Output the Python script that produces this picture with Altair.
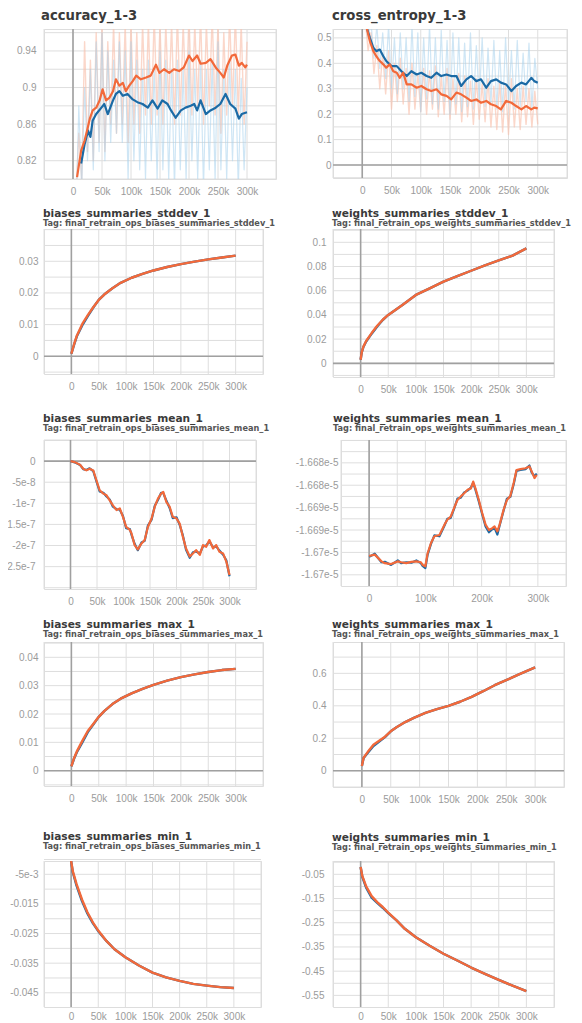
import altair as alt
import pandas as pd

# ---------------- data ----------------
# accuracy_1-3 (smoothed)
ACC_O_STEPS = [7, 14, 20, 25, 29, 34, 40, 46, 51, 57, 63, 69, 74, 80, 86, 91, 97, 103, 109, 117,
               126, 134, 143, 149, 157, 166, 174, 183, 191, 200, 206, 214, 220, 229, 237, 246, 254,
               260, 266, 274, 280, 286, 291, 297, 300]
ACC_O = [0.802, 0.831, 0.842, 0.855, 0.866, 0.875, 0.878, 0.886, 0.898, 0.886, 0.889, 0.896, 0.909,
         0.902, 0.905, 0.896, 0.902, 0.907, 0.913, 0.909, 0.911, 0.913, 0.925, 0.916, 0.920, 0.916,
         0.920, 0.918, 0.922, 0.935, 0.929, 0.935, 0.926, 0.927, 0.931, 0.922, 0.916, 0.911, 0.924,
         0.935, 0.936, 0.924, 0.927, 0.922, 0.925]
ACC_B_STEPS = [14, 20, 26, 30, 34, 40, 49, 54, 60, 69, 74, 80, 86, 94, 103, 111, 120, 129, 137, 146,
               154, 163, 169, 177, 186, 194, 203, 209, 214, 220, 229, 237, 246, 254, 263, 271, 280,
               286, 291, 300]
ACC_B = [0.817, 0.838, 0.853, 0.846, 0.864, 0.871, 0.878, 0.882, 0.871, 0.886, 0.893, 0.896, 0.891,
         0.893, 0.887, 0.884, 0.882, 0.878, 0.886, 0.877, 0.886, 0.882, 0.875, 0.867, 0.875, 0.878,
         0.880, 0.882, 0.875, 0.886, 0.871, 0.875, 0.878, 0.882, 0.893, 0.882, 0.877, 0.866, 0.871,
         0.873]
RAW_STEPS = [5, 10, 15, 20, 25, 30, 35, 40, 45, 50, 55, 60, 65, 70, 75, 80, 85, 90, 95, 100,
             105, 110, 115, 120, 125, 130, 135, 140, 145, 150, 155, 160, 165, 170, 175, 180, 185,
             190, 195, 200, 205, 210, 215, 220, 225, 230, 235, 240, 245, 250, 255, 260, 265, 270,
             275, 280, 285, 290, 295, 300]
ACC_O_RAW = [0.78, 0.85, 0.80, 0.95, 0.83, 0.93, 0.82, 0.96, 0.84, 0.97,
             0.83, 0.95, 0.86, 0.97, 0.85, 0.96, 0.86, 0.97, 0.84, 0.97,
             0.86, 0.96, 0.85, 0.97, 0.87, 0.97, 0.86, 0.98, 0.87, 0.97,
             0.86, 0.97, 0.88, 0.97, 0.86, 0.98, 0.87, 0.97, 0.88, 0.98,
             0.87, 0.97, 0.88, 0.98, 0.86, 0.97, 0.88, 0.98, 0.87, 0.97,
             0.85, 0.96, 0.87, 0.98, 0.88, 0.98, 0.87, 0.97, 0.86, 0.95]
ACC_B_RAW = [0.75, 0.88, 0.79, 0.90, 0.82, 0.92, 0.81, 0.95, 0.83, 0.96,
             0.82, 0.94, 0.84, 0.93, 0.85, 0.95, 0.84, 0.94, 0.80, 0.95,
             0.82, 0.93, 0.81, 0.92, 0.80, 0.93, 0.82, 0.92, 0.80, 0.94,
             0.81, 0.93, 0.80, 0.92, 0.79, 0.93, 0.81, 0.92, 0.80, 0.94,
             0.82, 0.92, 0.80, 0.93, 0.79, 0.92, 0.81, 0.93, 0.80, 0.95,
             0.81, 0.92, 0.80, 0.93, 0.82, 0.92, 0.79, 0.91, 0.81, 0.90]

# cross_entropy_1-3
CE_O_STEPS = [4, 7, 13, 19, 24, 30, 36, 41, 47, 53, 59, 64, 70, 76, 84, 93, 101, 110, 118, 127, 135,
              144, 152, 161, 169, 178, 186, 195, 203, 212, 220, 229, 237, 246, 255, 263, 272, 280,
              289, 294, 300]
CE_O = [0.60, 0.546, 0.487, 0.448, 0.428, 0.409, 0.396, 0.383, 0.396, 0.369, 0.363, 0.343, 0.363,
        0.317, 0.317, 0.304, 0.311, 0.298, 0.291, 0.298, 0.278, 0.272, 0.258, 0.285, 0.278, 0.265,
        0.252, 0.258, 0.245, 0.252, 0.239, 0.232, 0.219, 0.252, 0.245, 0.232, 0.219, 0.232, 0.219,
        0.226, 0.223]
CE_B_STEPS = [4, 7, 13, 19, 24, 30, 36, 41, 50, 59, 67, 76, 84, 93, 101, 110, 118, 127, 135, 144,
              152, 161, 169, 178, 186, 195, 203, 212, 220, 229, 237, 246, 255, 263, 272, 280, 289,
              294, 300]
CE_B = [0.60, 0.546, 0.5, 0.461, 0.448, 0.454, 0.428, 0.409, 0.389, 0.389, 0.369, 0.35, 0.369,
        0.356, 0.363, 0.35, 0.343, 0.363, 0.35, 0.356, 0.35, 0.35, 0.311, 0.337, 0.35, 0.33, 0.337,
        0.304, 0.33, 0.337, 0.324, 0.317, 0.291, 0.311, 0.324, 0.317, 0.343, 0.33, 0.324]
CE_O_RAW = [0.58, 0.45, 0.52, 0.36, 0.47, 0.30, 0.44, 0.28, 0.45, 0.22,
            0.40, 0.25, 0.42, 0.24, 0.38, 0.20, 0.40, 0.22, 0.36, 0.21,
            0.38, 0.20, 0.37, 0.22, 0.39, 0.19, 0.35, 0.20, 0.38, 0.18,
            0.34, 0.20, 0.36, 0.17, 0.35, 0.19, 0.33, 0.16, 0.34, 0.18,
            0.32, 0.17, 0.34, 0.15, 0.31, 0.14, 0.33, 0.13, 0.32, 0.12,
            0.34, 0.15, 0.30, 0.14, 0.31, 0.16, 0.30, 0.15, 0.29, 0.16]
CE_B_RAW = [0.56, 0.50, 0.56, 0.42, 0.55, 0.38, 0.52, 0.34, 0.55, 0.30,
            0.50, 0.28, 0.52, 0.30, 0.50, 0.25, 0.55, 0.27, 0.52, 0.21,
            0.50, 0.26, 0.55, 0.24, 0.50, 0.22, 0.53, 0.25, 0.49, 0.20,
            0.52, 0.24, 0.50, 0.21, 0.48, 0.23, 0.52, 0.22, 0.47, 0.25,
            0.50, 0.23, 0.46, 0.24, 0.49, 0.22, 0.45, 0.21, 0.50, 0.24,
            0.45, 0.22, 0.49, 0.23, 0.44, 0.25, 0.48, 0.22, 0.42, 0.30]

# biases_summaries_stddev_1
BS_STEPS = [0, 5, 10, 20, 30, 40, 50, 60, 75, 90, 110, 130, 150, 175, 200, 225, 250, 275, 300]
BS_O = [0.0008, 0.0038, 0.0065, 0.0102, 0.0130, 0.0155, 0.0178, 0.0195, 0.0215, 0.0232, 0.0248,
        0.0260, 0.0271, 0.0282, 0.0291, 0.0299, 0.0306, 0.0312, 0.0318]
BS_B = [0.0008, 0.0037, 0.0063, 0.0098, 0.0127, 0.0154, 0.0178, 0.0195, 0.0215, 0.0232, 0.0248,
        0.0260, 0.0271, 0.0282, 0.0291, 0.0299, 0.0306, 0.0312, 0.0318]

# weights_summaries_stddev_1
WS_STEPS = [0, 2, 5, 10, 20, 30, 40, 50, 75, 100, 125, 150, 175, 200, 225, 250, 275, 300]
WS_O = [0.003, 0.009, 0.0138, 0.0185, 0.025, 0.031, 0.036, 0.040, 0.048, 0.0565, 0.062, 0.0675,
        0.072, 0.0765, 0.081, 0.085, 0.089, 0.095]
WS_B = [0.003, 0.009, 0.0135, 0.018, 0.0245, 0.0305, 0.0358, 0.040, 0.048, 0.0565, 0.062, 0.0675,
        0.072, 0.0765, 0.081, 0.085, 0.089, 0.095]

# biases_summaries_mean_1 (units of 1e-8)
BM_STEPS = [0, 8, 18, 24, 30, 36, 43, 49, 55, 62, 68, 74, 80, 87, 93, 99, 105, 112, 115, 121,
            127, 134, 140, 146, 153, 159, 165, 171, 175, 181, 187, 193, 200, 206, 212, 218, 225,
            231, 237, 244, 250, 256, 262, 269, 275, 281, 288, 294, 300]
BM_O = [0, -0.24, -0.86, -1.8, -2.2, -1.8, -2.2, -4.6, -6.9, -7.7, -8.1, -9.3, -10.5, -11.6, -11.2,
        -13.2, -15.6, -16.3, -17.1, -19.9, -20.9, -19.5, -18.7, -15.6, -13.6, -10.8, -8.9, -7.7,
        -7.3, -9.7, -10.8, -13.2, -13.6, -14.8, -17.9, -20.7, -22.6, -21.9, -21.1, -22.2, -19.9,
        -20.3, -18.7, -20.7, -19.9, -21.5, -21.9, -23.8, -27.0]
BM_B = [0, -0.3, -0.9, -1.9, -2.1, -1.7, -2.4, -4.8, -7.2, -7.5, -8.4, -9.1, -10.8, -11.4, -11.5,
        -13.0, -15.9, -16.1, -17.4, -19.6, -21.1, -19.3, -18.9, -15.3, -13.9, -10.6, -9.2, -7.5,
        -7.6, -9.4, -11.1, -13.5, -13.3, -15.1, -17.6, -21.0, -22.9, -21.6, -21.4, -21.9, -20.2,
        -20.0, -19.0, -20.4, -20.2, -21.2, -22.2, -23.5, -27.3]

# weights_summaries_mean_1 (units of 1e-5)
WM_STEPS = [0, 10, 22, 28, 39, 51, 57, 66, 75, 84, 92, 95, 100, 104, 110, 116, 125, 134, 139, 145,
            151, 157, 163, 169, 175, 181, 185, 189, 195, 201, 207, 213, 219, 223, 228, 232, 239,
            245, 251, 257, 262, 269, 278, 285, 289, 294, 298]
WM_O = [-1.67008, -1.67005, -1.67020, -1.67024, -1.67026, -1.67020, -1.67022, -1.67024, -1.67021,
        -1.67020, -1.67022, -1.67028, -1.67031, -1.67002, -1.66979, -1.66964, -1.66961, -1.66938,
        -1.66927, -1.66920, -1.66901, -1.66883, -1.66875, -1.66868, -1.66860, -1.66857, -1.66842,
        -1.66857, -1.66883, -1.66912, -1.66938, -1.66950, -1.66946, -1.66942, -1.66953, -1.66938,
        -1.66905, -1.66883, -1.66874, -1.66845, -1.66816, -1.66814, -1.66812, -1.66808, -1.66819,
        -1.66834, -1.66827]
WM_B = [-1.67010, -1.67003, -1.67022, -1.67021, -1.67028, -1.67018, -1.67024, -1.67022, -1.67023,
        -1.67018, -1.67024, -1.67030, -1.67035, -1.67005, -1.66981, -1.66962, -1.66964, -1.66940,
        -1.66925, -1.66923, -1.66903, -1.66880, -1.66878, -1.66866, -1.66862, -1.66855, -1.66845,
        -1.66860, -1.66886, -1.66915, -1.66942, -1.66955, -1.66948, -1.66945, -1.66960, -1.66940,
        -1.66907, -1.66880, -1.66876, -1.66848, -1.66818, -1.66816, -1.66814, -1.66806, -1.66822,
        -1.66830, -1.66824]

# biases_summaries_max_1
BMX_STEPS = [0, 5, 10, 20, 30, 40, 50, 60, 75, 90, 110, 130, 150, 175, 200, 225, 250, 275, 300]
BMX_O = [0.0015, 0.0045, 0.0068, 0.0105, 0.0140, 0.0165, 0.0190, 0.0210, 0.0235, 0.0254, 0.0273,
         0.0289, 0.0303, 0.0318, 0.0330, 0.0340, 0.0348, 0.0355, 0.0359]
BMX_B = [0.0015, 0.0043, 0.0065, 0.0100, 0.0136, 0.0163, 0.0190, 0.0210, 0.0235, 0.0254, 0.0273,
         0.0289, 0.0303, 0.0318, 0.0330, 0.0340, 0.0348, 0.0355, 0.0359]

# weights_summaries_max_1
WMX_STEPS = [0, 3, 10, 20, 30, 40, 50, 60, 75, 90, 110, 130, 150, 170, 190, 210, 230, 250, 270, 300]
WMX_O = [0.03, 0.08, 0.115, 0.16, 0.185, 0.21, 0.243, 0.268, 0.30, 0.326, 0.356, 0.38, 0.40, 0.425,
         0.455, 0.49, 0.527, 0.558, 0.59, 0.637]
WMX_B = [0.03, 0.078, 0.11, 0.152, 0.18, 0.207, 0.243, 0.268, 0.30, 0.326, 0.356, 0.38, 0.40, 0.425,
         0.455, 0.49, 0.527, 0.558, 0.59, 0.637]

# biases_summaries_min_1
BMN_STEPS = [0, 3, 10, 20, 30, 40, 50, 65, 80, 100, 125, 150, 175, 200, 225, 250, 275, 300]
BMN_O = [-0.0005, -0.0039, -0.0083, -0.0135, -0.0178, -0.0212, -0.0240, -0.0275, -0.0303, -0.0330,
         -0.0358, -0.0382, -0.0398, -0.0410, -0.0420, -0.0426, -0.0431, -0.0434]
BMN_B = [-0.0005, -0.0042, -0.0088, -0.0140, -0.0182, -0.0215, -0.0242, -0.0275, -0.0303, -0.0330,
         -0.0358, -0.0382, -0.0398, -0.0410, -0.0420, -0.0426, -0.0431, -0.0434]

# weights_summaries_min_1
WMN_STEPS = [0, 3, 10, 20, 30, 40, 50, 65, 80, 100, 125, 150, 175, 200, 225, 250, 275, 300]
WMN_O = [-0.02, -0.057, -0.10, -0.14, -0.165, -0.185, -0.208, -0.24, -0.275, -0.31, -0.345, -0.378,
         -0.406, -0.435, -0.461, -0.486, -0.51, -0.532]
WMN_B = [-0.02, -0.06, -0.105, -0.146, -0.168, -0.188, -0.21, -0.24, -0.275, -0.31, -0.345, -0.378,
         -0.406, -0.435, -0.461, -0.486, -0.51, -0.532]

# ---------------- grid lines and tick labels ----------------
X_GRID = [-50000, 0, 50000, 100000, 150000, 200000, 250000, 300000, 350000]
X_TICKS = [0, 50000, 100000, 150000, 200000, 250000, 300000]
X_TEXT = ["0", "50k", "100k", "150k", "200k", "250k", "300k"]
X_TICKS_100 = [0, 100000, 200000, 300000]
X_TEXT_100 = ["0", "100k", "200k", "300k"]

ACC_GRID = [0.80, 0.82, 0.84, 0.86, 0.88, 0.90, 0.92, 0.94, 0.96]
ACC_TICKS = [0.82, 0.86, 0.90, 0.94]
ACC_TEXT = ["0.82", "0.86", "0.9", "0.94"]
CE_GRID = [-0.05, 0.0, 0.05, 0.1, 0.15, 0.2, 0.25, 0.3, 0.35, 0.4, 0.45, 0.5]
CE_TICKS = [0.0, 0.1, 0.2, 0.3, 0.4, 0.5]
CE_TEXT = ["0", "0.1", "0.2", "0.3", "0.4", "0.5"]
BS_GRID = [-0.005, 0.0, 0.005, 0.01, 0.015, 0.02, 0.025, 0.03, 0.035, 0.04]
BS_TICKS = [0.0, 0.01, 0.02, 0.03]
BS_TEXT = ["0", "0.01", "0.02", "0.03"]
WS_GRID = [-0.01, 0.0, 0.01, 0.02, 0.03, 0.04, 0.05, 0.06, 0.07, 0.08, 0.09, 0.1, 0.11]
WS_TICKS = [0.0, 0.02, 0.04, 0.06, 0.08, 0.1]
WS_TEXT = ["0", "0.02", "0.04", "0.06", "0.08", "0.1"]
BM_GRID = [-30.0, -25.0, -20.0, -15.0, -10.0, -5.0, 0.0, 5.0]          # x 1e-8
BM_TICKS = [-25.0, -20.0, -15.0, -10.0, -5.0, 0.0]
BM_TEXT = ["2.5e-7", "-2e-7", "1.5e-7", "-1e-7", "-5e-8", "0"]
WM_GRID = [-1.6705, -1.67025, -1.67, -1.66975, -1.6695, -1.66925, -1.669, -1.66875, -1.6685,
           -1.66825, -1.668, -1.66775, -1.6675]                           # x 1e-5
WM_TICKS = [-1.6705, -1.67, -1.6695, -1.669, -1.6685, -1.668]
WM_TEXT = ["-1.67e-5", "-1.67e-5", "-1.669e-5", "-1.669e-5", "-1.668e-5", "-1.668e-5"]
BMX_GRID = [-0.005, 0.0, 0.005, 0.01, 0.015, 0.02, 0.025, 0.03, 0.035, 0.04, 0.045]
BMX_TICKS = [0.0, 0.01, 0.02, 0.03, 0.04]
BMX_TEXT = ["0", "0.01", "0.02", "0.03", "0.04"]
WMX_GRID = [-0.1, 0.0, 0.1, 0.2, 0.3, 0.4, 0.5, 0.6, 0.7]
WMX_TICKS = [0.0, 0.2, 0.4, 0.6]
WMX_TEXT = ["0", "0.2", "0.4", "0.6"]
BMN_GRID = [-0.045, -0.04, -0.035, -0.03, -0.025, -0.02, -0.015, -0.01, -0.005, 0.0]
BMN_TICKS = [-0.045, -0.035, -0.025, -0.015, -0.005]
BMN_TEXT = ["-0.045", "-0.035", "-0.025", "-0.015", "-5e-3"]
WMN_GRID = [-0.55, -0.5, -0.45, -0.4, -0.35, -0.3, -0.25, -0.2, -0.15, -0.1, -0.05, 0.0]
WMN_TICKS = [-0.55, -0.45, -0.35, -0.25, -0.15, -0.05]
WMN_TEXT = ["-0.55", "-0.45", "-0.35", "-0.25", "-0.15", "-0.05"]

# ---------------- style ----------------
ORANGE = "#f2693a"
BLUE = "#1b6aa5"
ORANGE_RAW = "#f9c2ae"
BLUE_RAW = "#a8d1ed"
GRID = "#dedede"
ZERO = "#a0a0a0"
LABEL = "#9b9b9b"
LFONT = "Liberation Sans"
TFONT = "DejaVu Sans"


def label_expr(values, texts):
    expr = "''"
    for v, t in zip(values, texts):
        expr = f"datum.value == {v!r} ? '{t}' : " + expr
    return expr


def frame(steps, vals, factor=1.0):
    return pd.DataFrame({"step": [s * 1000 for s in steps], "v": [x * factor for x in vals]})


def panel(title, tag, W, H, ydom, ygrid, yticks, ytext, series, factor=1.0,
          xticks=X_TICKS, xtext=X_TEXT, zero_y=True, x_ext=20, y_ext=None, ypad=7, xpad=7,
          tsize=10.6, dx=-1, offset=4):
    yt = [t * factor for t in yticks]
    yaxis_kw = dict(values=yt, labelExpr=label_expr(yt, ytext), title=None, grid=False,
                    domain=False, ticks=False, labelColor=LABEL, labelFont=LFONT,
                    labelFontSize=10, labelPadding=ypad, labelFlush=False, labelOverlap=False)
    if y_ext is not None:
        yaxis_kw.update(minExtent=y_ext, maxExtent=y_ext)
    x = alt.X("step:Q", scale=alt.Scale(domain=[-50000, 350000], nice=False, zero=False),
              axis=alt.Axis(values=xticks, labelExpr=label_expr(xticks, xtext), title=None,
                            grid=False, domain=False, ticks=False, labelColor=LABEL,
                            labelFont=LFONT, labelFontSize=10, labelPadding=xpad,
                            labelFlush=False, labelOverlap=False, minExtent=x_ext,
                            maxExtent=x_ext))
    y = alt.Y("v:Q", scale=alt.Scale(domain=[d * factor for d in ydom], nice=False, zero=False),
              axis=alt.Axis(**yaxis_kw))
    layers = [
        alt.Chart(pd.DataFrame({"step": X_GRID})).mark_rule(color=GRID, strokeWidth=1)
        .encode(x=x),
        alt.Chart(pd.DataFrame({"v": [g * factor for g in ygrid]}))
        .mark_rule(color=GRID, strokeWidth=1).encode(y=y),
        alt.Chart(pd.DataFrame({"step": [0]})).mark_rule(color=ZERO, strokeWidth=1.6)
        .encode(x=x),
    ]
    if zero_y:
        layers.append(alt.Chart(pd.DataFrame({"v": [0.0]})).mark_rule(color=ZERO, strokeWidth=1.6)
                      .encode(y=y))
    for steps, vals, color, width, op in series:
        layers.append(alt.Chart(frame(steps, vals, factor)).mark_line(
            clip=True, color=color, strokeWidth=width, opacity=op, strokeJoin="round"
        ).encode(x=x, y=y))
    tkw = dict(text=title, anchor="start", frame="group", font=TFONT, fontSize=tsize,
               fontWeight="bold", color="#3a3a3a", offset=offset, dx=dx)
    if tag:
        tkw.update(subtitle=tag, subtitleFont=TFONT, subtitleFontSize=8.2,
                   subtitleFontWeight="bold", subtitleColor="#555555", subtitlePadding=0)
    return alt.layer(*layers).properties(width=W, height=H, title=alt.TitleParams(**tkw))


def pair(steps_o, o, steps_b, b, w=2.4):
    return [(steps_b, b, BLUE, w, 1.0), (steps_o, o, ORANGE, w, 1.0)]


TAG = "Tag: final_retrain_ops_"
YE = 32

acc = panel("accuracy_1-3", None, 232, 150, [0.80, 0.964], ACC_GRID, ACC_TICKS, ACC_TEXT,
            [(RAW_STEPS, ACC_O_RAW, ORANGE_RAW, 1.4, 0.65),
             (RAW_STEPS, ACC_B_RAW, BLUE_RAW, 1.2, 0.55),
             (ACC_B_STEPS, ACC_B, BLUE, 2.2, 1.0), (ACC_O_STEPS, ACC_O, ORANGE, 2.2, 1.0)],
            zero_y=False, x_ext=28, y_ext=YE, ypad=8, tsize=13.2, dx=-3, offset=5)
ce = panel("cross_entropy_1-3", None, 234, 149, [-0.051, 0.535], CE_GRID, CE_TICKS, CE_TEXT,
           [(RAW_STEPS, CE_O_RAW, ORANGE_RAW, 1.4, 0.65),
            (RAW_STEPS, CE_B_RAW, BLUE_RAW, 1.2, 0.55),
            (CE_B_STEPS, CE_B, BLUE, 2.2, 1.0), (CE_O_STEPS, CE_O, ORANGE, 2.2, 1.0)],
           x_ext=28, ypad=2, tsize=13.2, dx=-1, offset=5)

bs = panel("biases_summaries_stddev_1", TAG + "biases_summaries_stddev_1", 219, 145,
           [-0.0056, 0.0402], BS_GRID, BS_TICKS, BS_TEXT, pair(BS_STEPS, BS_O, BS_STEPS, BS_B),
           x_ext=35, y_ext=YE, ypad=6, offset=1)
ws = panel("weights_summaries_stddev_1", TAG + "weights_summaries_stddev_1", 221, 148,
           [-0.0113, 0.111], WS_GRID, WS_TICKS, WS_TEXT, pair(WS_STEPS, WS_O, WS_STEPS, WS_B),
           x_ext=35, ypad=7, offset=1)

bm = panel("biases_summaries_mean_1", TAG + "biases_summaries_mean_1", 212, 149,
           [-30.3, 5.0], BM_GRID, BM_TICKS, BM_TEXT, pair(BM_STEPS, BM_O, BM_STEPS, BM_B, 2.2),
           factor=1e-8, x_ext=29, y_ext=YE, ypad=9, offset=7)
wm = panel("weights_summaries_mean_1", TAG + "weights_summaries_mean_1", 225, 146,
           [-1.67075, -1.66749], WM_GRID, WM_TICKS, WM_TEXT,
           pair(WM_STEPS, WM_O, WM_STEPS, WM_B, 2.2), factor=1e-5, xticks=X_TICKS_100,
           xtext=X_TEXT_100, zero_y=False, x_ext=29, ypad=3, dx=-8, offset=7)

bmx = panel("biases_summaries_max_1", TAG + "biases_summaries_max_1", 219, 144,
            [-0.0054, 0.0454], BMX_GRID, BMX_TICKS, BMX_TEXT,
            pair(BMX_STEPS, BMX_O, BMX_STEPS, BMX_B), x_ext=43, y_ext=YE, ypad=6, offset=3)
wmx = panel("weights_summaries_max_1", TAG + "weights_summaries_max_1", 231, 145,
            [-0.1, 0.793], WMX_GRID, WMX_TICKS, WMX_TEXT,
            pair(WMX_STEPS, WMX_O, WMX_STEPS, WMX_B), x_ext=43, ypad=7, offset=3)

bmn = panel("biases_summaries_min_1", TAG + "biases_summaries_min_1", 217, 146,
            [-0.0498, -0.0005], BMN_GRID, BMN_TICKS, BMN_TEXT,
            pair(BMN_STEPS, BMN_O, BMN_STEPS, BMN_B), zero_y=False, x_ext=15, y_ext=YE, ypad=6,
            xpad=4, offset=9)
wmn = panel("weights_summaries_min_1", TAG + "weights_summaries_min_1", 221, 146,
            [-0.598, 0.005], WMN_GRID, WMN_TICKS, WMN_TEXT,
            pair(WMN_STEPS, WMN_O, WMN_STEPS, WMN_B), zero_y=False, x_ext=15, ypad=9,
            xpad=4, offset=9)

rows = [
    alt.hconcat(acc, ce, spacing=57, bounds="flush"),
    alt.hconcat(bs, ws, spacing=70, bounds="flush"),
    alt.hconcat(bm, wm, spacing=85, bounds="flush"),
    alt.hconcat(bmx, wmx, spacing=70, bounds="flush"),
    alt.hconcat(bmn, wmn, spacing=72, bounds="flush"),
]

chart = alt.vconcat(*rows, spacing=0, bounds="full").properties(
    padding={"left": -2, "top": 0, "right": 0, "bottom": 0}
).configure_view(stroke=None).configure_axis(labelOverlap=False).configure(background="white")

chart.save("out.html", embed_options={"renderer": "svg", "actions": False})
